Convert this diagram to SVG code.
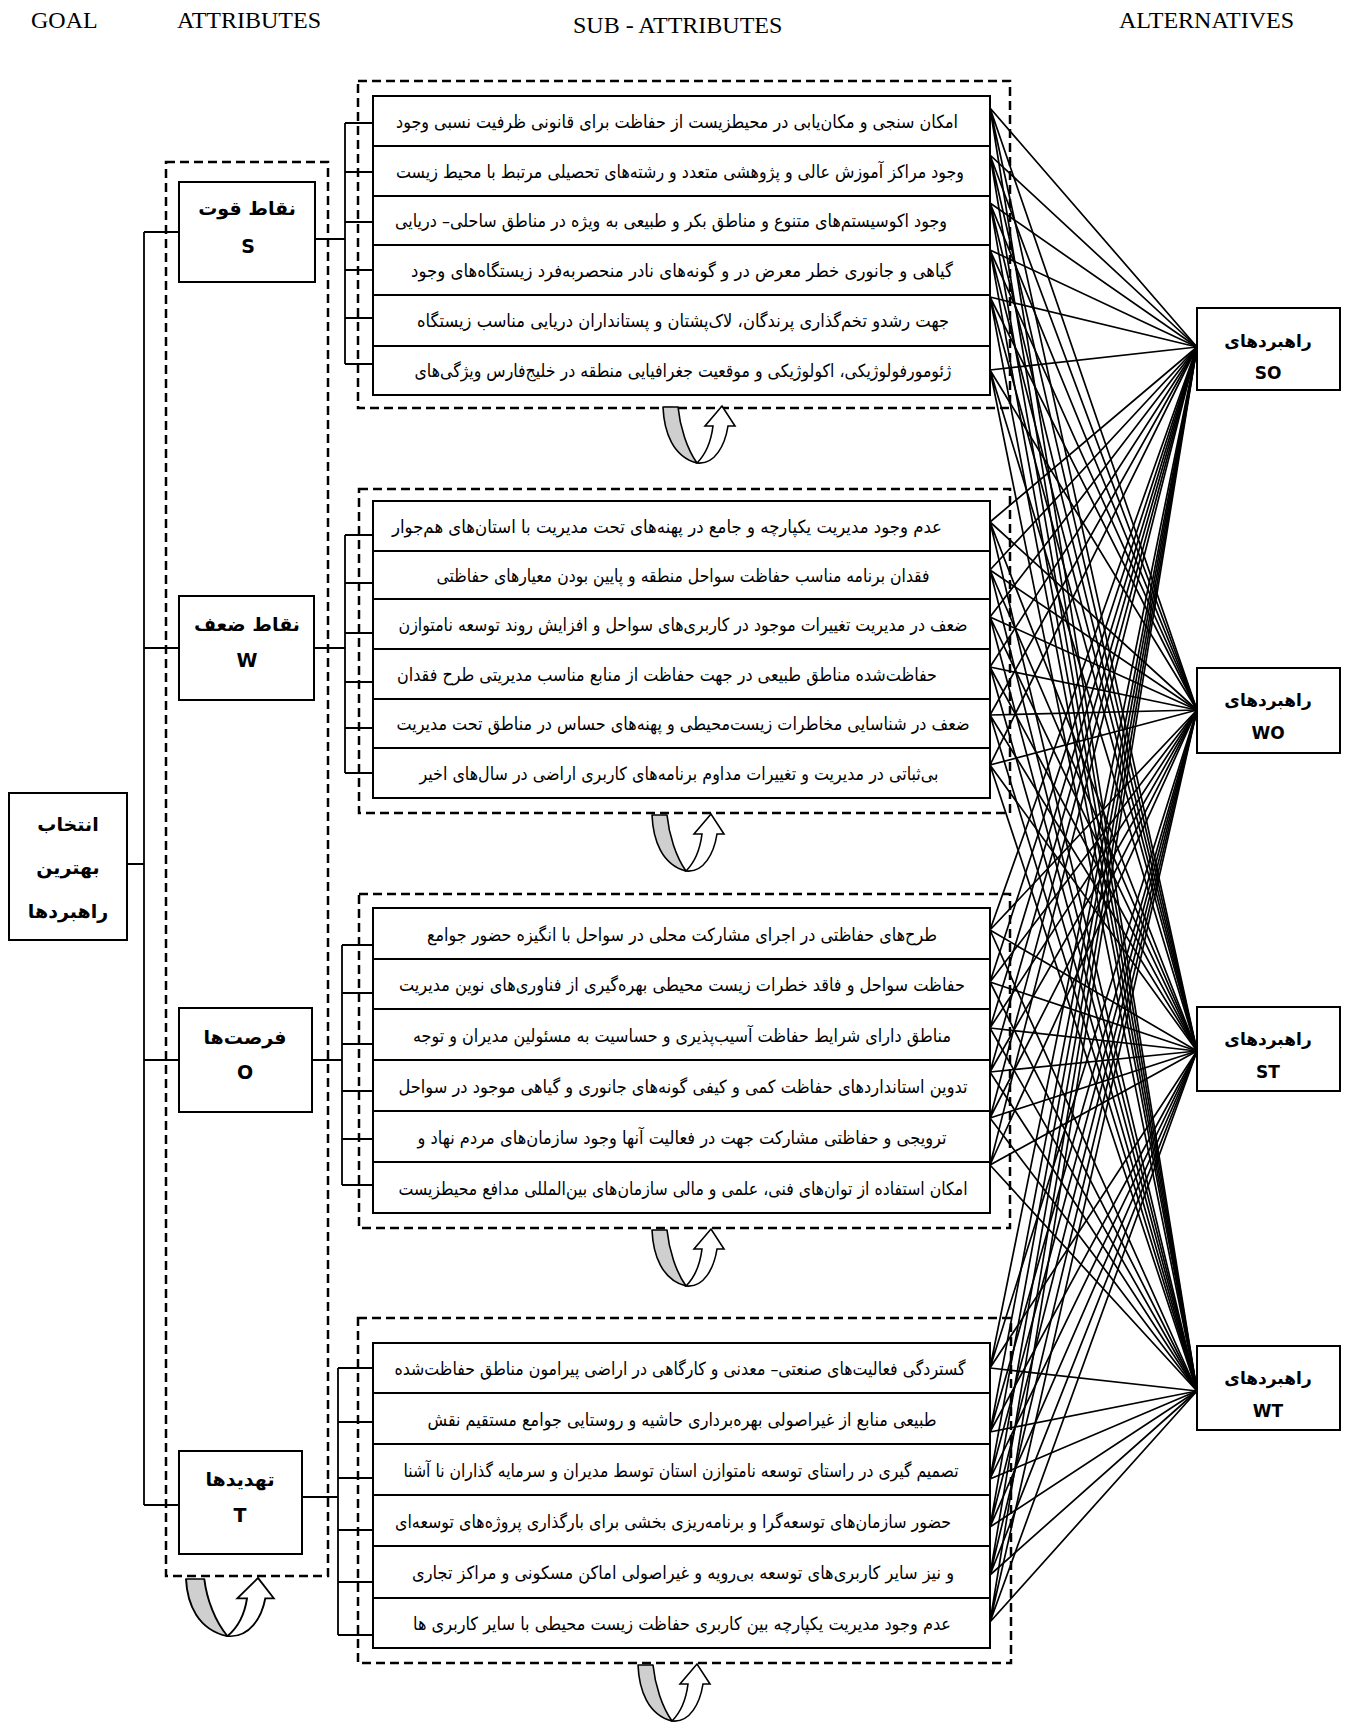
<svg xmlns="http://www.w3.org/2000/svg" xmlns:xlink="http://www.w3.org/1999/xlink" width="1345" height="1726" viewBox="0 0 1345 1726">
<style>
.hdr{font-family:"Liberation Serif",serif;font-size:24px;fill:#000}
.fa{font-family:"DejaVu Sans",sans-serif;font-size:18px;fill:#000;text-anchor:middle}
.fb{font-family:"DejaVu Sans",sans-serif;font-weight:bold;font-size:19px;fill:#000;text-anchor:middle}
.fc{font-family:"DejaVu Sans",sans-serif;font-weight:bold;font-size:17px;fill:#000;text-anchor:middle}
.box{fill:#fff;stroke:#000;stroke-width:2}
.dash{fill:none;stroke:#000;stroke-width:2.5;stroke-dasharray:9 5}
.con{fill:none;stroke:#000;stroke-width:1.8}
.ln{fill:none;stroke:#000;stroke-width:1.7}
.ug{fill:#cfcfcf;stroke:#000;stroke-width:1.6;stroke-linejoin:round}
.uw{fill:#fff;stroke:#000;stroke-width:1.6;stroke-linejoin:miter}
</style>
<defs>
<g id="ut">
<path class="ug" d="M0,0 L15,0 C17,20 24,42 34,56 C10,50 1,25 0,0 Z"/>
<path class="uw" d="M34,56 C52,58 62,38 65,19 L72,19 L59,-1 L42,19 L50,19 C48,35 42,48 34,56 Z"/>
</g>
</defs>
<rect width="1345" height="1726" fill="#fff"/>

<g id="headers">
<text class="hdr" x="31" y="28">GOAL</text>
<text class="hdr" x="177" y="28">ATTRIBUTES</text>
<text class="hdr" x="573" y="33">SUB - ATTRIBUTES</text>
<text class="hdr" x="1119" y="28">ALTERNATIVES</text>
</g>

<g id="dashed-frames">
<rect class="dash" x="166" y="162" width="162" height="1414"/>
<rect class="dash" x="358" y="81" width="652" height="327"/>
<rect class="dash" x="359" y="489" width="651" height="324"/>
<rect class="dash" x="359" y="894" width="651" height="334"/>
<rect class="dash" x="358" y="1318" width="653" height="345"/>
</g>

<g id="connectors">
<path class="con" d="M127,864 H144 M144,232 V1505 M144,232 H179 M144,648 H179 M144,1060 H179 M144,1505 H179"/>
<path class="con" d="M315,239 H345 M345,123 V364 M345,123 H373 M345,172 H373 M345,222 H373 M345,270 H373 M345,318 H373 M345,364 H373"/>
<path class="con" d="M314,648 H345 M345,535 V773 M345,535 H373 M345,583 H373 M345,633 H373 M345,682 H373 M345,728 H373 M345,773 H373"/>
<path class="con" d="M312,1060 H342 M342,945 V1185 M342,945 H373 M342,993 H373 M342,1044 H373 M342,1091 H373 M342,1139 H373 M342,1185 H373"/>
<path class="con" d="M302,1497 H338 M338,1368 V1635 M338,1368 H373 M338,1422 H373 M338,1478 H373 M338,1530 H373 M338,1582 H373 M338,1635 H373"/>
<g id="links">
<path class="ln" d="M990,108 L1197,347 M990,108 L1197,710 M990,108 L1197,1051 M990,108 L1197,1391"/>
<path class="ln" d="M990,155 L1197,347 M990,155 L1197,710 M990,155 L1197,1051 M990,155 L1197,1391"/>
<path class="ln" d="M990,203 L1197,347 M990,203 L1197,710 M990,203 L1197,1051 M990,203 L1197,1391"/>
<path class="ln" d="M990,250 L1197,347 M990,250 L1197,710 M990,250 L1197,1051 M990,250 L1197,1391"/>
<path class="ln" d="M990,297 L1197,347 M990,297 L1197,710 M990,297 L1197,1051 M990,297 L1197,1391"/>
<path class="ln" d="M990,370 L1197,347 M990,370 L1197,710 M990,370 L1197,1051 M990,370 L1197,1391"/>
<path class="ln" d="M990,522 L1197,347 M990,522 L1197,710 M990,522 L1197,1051 M990,522 L1197,1391"/>
<path class="ln" d="M990,570 L1197,347 M990,570 L1197,710 M990,570 L1197,1051 M990,570 L1197,1391"/>
<path class="ln" d="M990,617 L1197,347 M990,617 L1197,710 M990,617 L1197,1051 M990,617 L1197,1391"/>
<path class="ln" d="M990,667 L1197,347 M990,667 L1197,710 M990,667 L1197,1051 M990,667 L1197,1391"/>
<path class="ln" d="M990,715 L1197,347 M990,715 L1197,710 M990,715 L1197,1051 M990,715 L1197,1391"/>
<path class="ln" d="M990,765 L1197,347 M990,765 L1197,710 M990,765 L1197,1051 M990,765 L1197,1391"/>
<path class="ln" d="M990,930 L1197,347 M990,930 L1197,710 M990,930 L1197,1051 M990,930 L1197,1391"/>
<path class="ln" d="M990,982 L1197,347 M990,982 L1197,710 M990,982 L1197,1051 M990,982 L1197,1391"/>
<path class="ln" d="M990,1028 L1197,347 M990,1028 L1197,710 M990,1028 L1197,1051 M990,1028 L1197,1391"/>
<path class="ln" d="M990,1072 L1197,347 M990,1072 L1197,710 M990,1072 L1197,1051 M990,1072 L1197,1391"/>
<path class="ln" d="M990,1118 L1197,347 M990,1118 L1197,710 M990,1118 L1197,1051 M990,1118 L1197,1391"/>
<path class="ln" d="M990,1165 L1197,347 M990,1165 L1197,710 M990,1165 L1197,1051 M990,1165 L1197,1391"/>
<path class="ln" d="M990,1368 L1197,347 M990,1368 L1197,710 M990,1368 L1197,1051 M990,1368 L1197,1391"/>
<path class="ln" d="M990,1432 L1197,347 M990,1432 L1197,710 M990,1432 L1197,1051 M990,1432 L1197,1391"/>
<path class="ln" d="M990,1479 L1197,347 M990,1479 L1197,710 M990,1479 L1197,1051 M990,1479 L1197,1391"/>
<path class="ln" d="M990,1527 L1197,347 M990,1527 L1197,710 M990,1527 L1197,1051 M990,1527 L1197,1391"/>
<path class="ln" d="M990,1575 L1197,347 M990,1575 L1197,710 M990,1575 L1197,1051 M990,1575 L1197,1391"/>
<path class="ln" d="M990,1622 L1197,347 M990,1622 L1197,710 M990,1622 L1197,1051 M990,1622 L1197,1391"/>
</g>
</g>

<g id="goal">
<rect class="box" x="9" y="793" width="118" height="147"/>
<text class="fb" x="68" y="831">انتخاب</text>
<text class="fb" x="68" y="874">بهترین</text>
<text class="fb" x="68" y="918">راهبردها</text>
</g>

<g id="attr-S">
<rect class="box" x="179" y="182" width="136" height="100"/>
<text class="fb" x="247" y="215">نقاط قوت</text>
<text class="fb" x="248" y="253">S</text>
</g>
<g id="attr-W">
<rect class="box" x="179" y="596" width="135" height="104"/>
<text class="fb" x="247" y="631">نقاط ضعف</text>
<text class="fb" x="247" y="667">W</text>
</g>
<g id="attr-O">
<rect class="box" x="179" y="1008" width="133" height="104"/>
<text class="fb" x="245" y="1044">فرصت‌ها</text>
<text class="fb" x="245" y="1079">O</text>
</g>
<g id="attr-T">
<rect class="box" x="179" y="1451" width="123" height="103"/>
<text class="fb" x="240" y="1486">تهدیدها</text>
<text class="fb" x="240" y="1522">T</text>
</g>

<g id="sub-S">
<g id="s1"><rect class="box" x="373" y="96" width="617" height="50"/><text class="fa" x="677" y="128" textLength="562" lengthAdjust="spacingAndGlyphs">امکان سنجی و مکان‌یابی در محیطزیست از حفاظت برای قانونی ظرفیت نسبی وجود</text></g>
<g id="s2"><rect class="box" x="373" y="146" width="617" height="50"/><text class="fa" x="680" y="178" textLength="568" lengthAdjust="spacingAndGlyphs">وجود مراکز آموزش عالی و پژوهشی متعدد و رشته‌های تحصیلی مرتبط با محیط زیست</text></g>
<g id="s3"><rect class="box" x="373" y="196" width="617" height="49"/><text class="fa" x="671" y="227" textLength="552" lengthAdjust="spacingAndGlyphs">وجود اکوسیستم‌های متنوع و مناطق بکر و طبیعی به ویژه در مناطق ساحلی– دریایی</text></g>
<g id="s4"><rect class="box" x="373" y="245" width="617" height="50"/><text class="fa" x="682" y="277" textLength="542" lengthAdjust="spacingAndGlyphs">گیاهی و جانوری خطر معرض در و گونه‌های نادر منحصربه‌فرد زیستگاه‌های وجود</text></g>
<g id="s5"><rect class="box" x="373" y="295" width="617" height="51"/><text class="fa" x="683" y="327" textLength="532" lengthAdjust="spacingAndGlyphs">جهت رشدو تخم‌گذاری پرندگان، لاک‌پشتان و پستانداران دریایی مناسب زیستگاه</text></g>
<g id="s6"><rect class="box" x="373" y="346" width="617" height="49"/><text class="fa" x="683" y="377" textLength="537" lengthAdjust="spacingAndGlyphs">ژئومورفولوژیکی، اکولوژیکی و موقعیت جغرافیایی منطقه در خلیج‌فارس ویژگی‌های</text></g>
</g>

<g id="sub-W">
<g id="w1"><rect class="box" x="373" y="501" width="617" height="50"/><text class="fa" x="667" y="533" textLength="550" lengthAdjust="spacingAndGlyphs">عدم وجود مدیریت یکپارچه و جامع در پهنه‌های تحت مدیریت با استان‌های هم‌جوار</text></g>
<g id="w2"><rect class="box" x="373" y="551" width="617" height="48"/><text class="fa" x="683" y="582" textLength="493" lengthAdjust="spacingAndGlyphs">فقدان برنامه مناسب حفاظت سواحل منطقه و پایین بودن معیارهای حفاظتی</text></g>
<g id="w3"><rect class="box" x="373" y="599" width="617" height="50"/><text class="fa" x="683" y="631" textLength="569" lengthAdjust="spacingAndGlyphs">ضعف در مدیریت تغییرات موجود در کاربری‌های سواحل و افزایش روند توسعه نامتوازن</text></g>
<g id="w4"><rect class="box" x="373" y="649" width="617" height="50"/><text class="fa" x="667" y="681" textLength="540" lengthAdjust="spacingAndGlyphs">حفاظت‌شده  مناطق طبیعی در جهت حفاظت از منابع مناسب مدیریتی طرح فقدان</text></g>
<g id="w5"><rect class="box" x="373" y="699" width="617" height="49"/><text class="fa" x="683" y="730" textLength="573" lengthAdjust="spacingAndGlyphs">ضعف در شناسایی مخاطرات زیست‌محیطی و پهنه‌های حساس در مناطق تحت مدیریت</text></g>
<g id="w6"><rect class="box" x="373" y="748" width="617" height="50"/><text class="fa" x="679" y="780" textLength="519" lengthAdjust="spacingAndGlyphs">بی‌ثباتی در مدیریت و تغییرات مداوم برنامه‌های کاربری اراضی در سال‌های اخیر</text></g>
</g>

<g id="sub-O">
<g id="o1"><rect class="box" x="373" y="908" width="617" height="51"/><text class="fa" x="682" y="941" textLength="510" lengthAdjust="spacingAndGlyphs">طرح‌های حفاظتی در اجرای مشارکت محلی در سواحل با انگیزه حضور جوامع</text></g>
<g id="o2"><rect class="box" x="373" y="959" width="617" height="50"/><text class="fa" x="682" y="991" textLength="566" lengthAdjust="spacingAndGlyphs">حفاظت سواحل و فاقد خطرات زیست محیطی  بهره‌گیری از فناوری‌های نوین مدیریت</text></g>
<g id="o3"><rect class="box" x="373" y="1009" width="617" height="51"/><text class="fa" x="682" y="1042" textLength="538" lengthAdjust="spacingAndGlyphs">مناطق دارای شرایط حفاظت آسیب‌پذیری و حساسیت به مسئولین مدیران و توجه</text></g>
<g id="o4"><rect class="box" x="373" y="1060" width="617" height="51"/><text class="fa" x="683" y="1093" textLength="569" lengthAdjust="spacingAndGlyphs">تدوین استانداردهای حفاظت کمی و کیفی گونه‌های جانوری و گیاهی موجود در سواحل</text></g>
<g id="o5"><rect class="box" x="373" y="1111" width="617" height="51"/><text class="fa" x="682" y="1144" textLength="529" lengthAdjust="spacingAndGlyphs">ترویجی و حفاظتی مشارکت جهت در فعالیت آنها وجود سازمان‌های مردم نهاد و</text></g>
<g id="o6"><rect class="box" x="373" y="1162" width="617" height="51"/><text class="fa" x="683" y="1195" textLength="569" lengthAdjust="spacingAndGlyphs">امکان استفاده از توان‌های فنی، علمی و مالی سازمان‌های بین‌المللی مدافع محیطزیست</text></g>
</g>

<g id="sub-T">
<g id="t1"><rect class="box" x="373" y="1343" width="617" height="50"/><text class="fa" x="680" y="1375" textLength="571" lengthAdjust="spacingAndGlyphs">گستردگی فعالیت‌های صنعتی– معدنی و کارگاهی در اراضی پیرامون مناطق حفاظت‌شده</text></g>
<g id="t2"><rect class="box" x="373" y="1393" width="617" height="51"/><text class="fa" x="682" y="1426" textLength="509" lengthAdjust="spacingAndGlyphs">طبیعی منابع از غیراصولی بهره‌برداری حاشیه و روستایی جوامع مستقیم نقش</text></g>
<g id="t3"><rect class="box" x="373" y="1444" width="617" height="51"/><text class="fa" x="681" y="1477" textLength="555" lengthAdjust="spacingAndGlyphs">تصمیم گیری در راستای توسعه نامتوازن استان توسط مدیران و سرمایه گذاران نا آشنا</text></g>
<g id="t4"><rect class="box" x="373" y="1495" width="617" height="51"/><text class="fa" x="673" y="1528" textLength="556" lengthAdjust="spacingAndGlyphs">حضور سازمان‌های توسعه‌گرا و برنامه‌ریزی بخشی برای بارگذاری پروژه‌های توسعه‌ای</text></g>
<g id="t5"><rect class="box" x="373" y="1546" width="617" height="52"/><text class="fa" x="683" y="1579" textLength="542" lengthAdjust="spacingAndGlyphs">و نیز سایر کاربری‌های  توسعه بی‌رویه و غیراصولی اماکن مسکونی و مراکز تجاری</text></g>
<g id="t6"><rect class="box" x="373" y="1598" width="617" height="50"/><text class="fa" x="682" y="1630" textLength="538" lengthAdjust="spacingAndGlyphs">عدم وجود مدیریت یکپارچه بین کاربری حفاظت زیست محیطی با سایر کاربری ها</text></g>
</g>

<g id="alt-SO">
<rect class="box" x="1197" y="308" width="143" height="82"/>
<text class="fc" x="1268" y="347">راهبردهای</text>
<text class="fc" x="1268" y="379">SO</text>
</g>
<g id="alt-WO">
<rect class="box" x="1197" y="668" width="143" height="85"/>
<text class="fc" x="1268" y="706">راهبردهای</text>
<text class="fc" x="1268" y="739">WO</text>
</g>
<g id="alt-ST">
<rect class="box" x="1197" y="1007" width="143" height="84"/>
<text class="fc" x="1268" y="1045">راهبردهای</text>
<text class="fc" x="1268" y="1078">ST</text>
</g>
<g id="alt-WT">
<rect class="box" x="1197" y="1346" width="143" height="84"/>
<text class="fc" x="1268" y="1384">راهبردهای</text>
<text class="fc" x="1268" y="1417">WT</text>
</g>

<g id="cycle-arrows">
<use xlink:href="#ut" transform="translate(663,407)"/>
<use xlink:href="#ut" transform="translate(652,815)"/>
<use xlink:href="#ut" transform="translate(652,1230)"/>
<use xlink:href="#ut" transform="translate(638,1665)"/>
<use xlink:href="#ut" transform="translate(186,1579) scale(1.22,1.02)"/>
</g>
</svg>
